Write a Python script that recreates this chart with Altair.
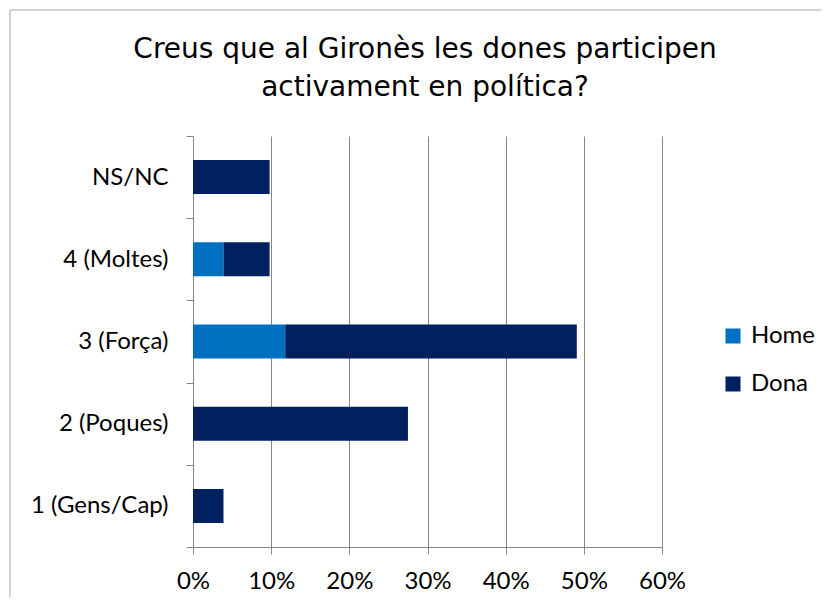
import altair as alt
import pandas as pd

categories = ["NS/NC", "4 (Moltes)", "3 (Força)", "2 (Poques)", "1 (Gens/Cap)"]
home_values = [0.0, 0.039, 0.118, 0.0, 0.0]
dona_values = [0.098, 0.059, 0.373, 0.275, 0.039]
series = ["Home", "Dona"]
colors = ["#0070C0", "#002060"]
x_ticks = [0.0, 0.1, 0.2, 0.3, 0.4, 0.5, 0.6]
title_text = "Creus que al Gironès les dones participen\nactivament en política?"

rows = []
for c, h, d in zip(categories, home_values, dona_values):
    rows.append({"cat": c, "serie": "Home", "val": h, "ord": 0})
    rows.append({"cat": c, "serie": "Dona", "val": d, "ord": 1})
df = pd.DataFrame(rows)

LABEL_FONT = "Lato"
GRAY = "#868686"

bars = alt.Chart(df).mark_bar(size=34).encode(
    y=alt.Y("cat:N", sort=categories,
            scale=alt.Scale(paddingInner=0, paddingOuter=0),
            axis=alt.Axis(title=None, tickBand="extent", tickSize=7, tickColor=GRAY,
                          domainColor=GRAY, labelFont=LABEL_FONT, labelFontSize=24,
                          labelColor="#000000", labelPadding=18, grid=False)),
    x=alt.X("val:Q", stack="zero",
            scale=alt.Scale(domain=[0, 0.6], nice=False),
            axis=alt.Axis(title=None, values=x_ticks, format=".0%", tickSize=7,
                          tickColor=GRAY, domainColor=GRAY, grid=True, gridColor=GRAY,
                          gridOpacity=1, labelFont=LABEL_FONT, labelFontSize=24,
                          labelColor="#000000", labelPadding=15, labelFlush=False)),
    color=alt.Color("serie:N", scale=alt.Scale(domain=series, range=colors),
                    legend=alt.Legend(title=None, orient="none", legendX=528, legendY=188,
                                      symbolType="square", symbolSize=225,
                                      symbolStrokeWidth=0, labelFont=LABEL_FONT,
                                      labelFontSize=24, labelColor="#000000",
                                      rowPadding=24, labelOffset=6)),
    order=alt.Order("ord:Q"),
)

frame = alt.Chart(alt.Data(values=[{"a": 1}])).mark_rect(
    fill="transparent", stroke="#A6A6A6", strokeWidth=1
).encode(
    x=alt.value(-183), x2=alt.value(700), y=alt.value(-126), y2=alt.value(520)
)

title = alt.Chart(alt.Data(values=[{"t": title_text}])).mark_text(
    font="DejaVu Sans", fontSize=28, color="#000000", align="center",
    baseline="alphabetic", lineBreak="\n", lineHeight=38
).encode(
    x=alt.value(232), y=alt.value(-78), text="t:N"
)

chart = alt.layer(frame, bars, title).properties(
    width=469,
    height=411,
    autosize=alt.AutoSizeParams(type="none"),
    padding={"left": 185, "top": 128, "right": 159, "bottom": 50},
).configure_view(strokeWidth=0)

chart.save("out.html", embed_options={"renderer": "svg", "actions": False})
